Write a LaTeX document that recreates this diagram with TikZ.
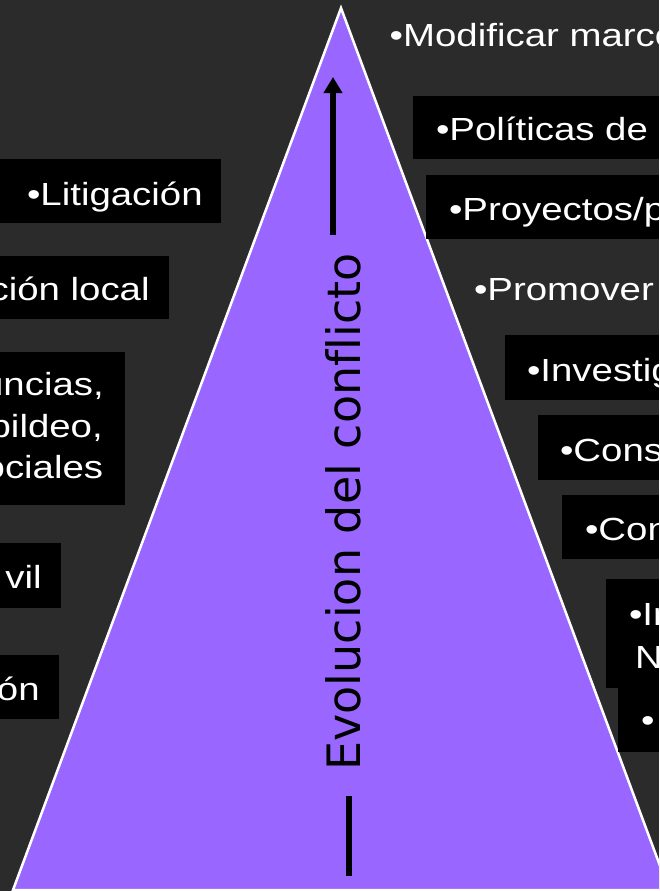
\documentclass[tikz,border=0pt]{standalone}
\usepackage{fontspec}
\usetikzlibrary{arrows.meta}
\newfontfamily\boxfont[FakeStretch=1.2,Ligatures=NoCommon]{Liberation Sans}
\newfontfamily\axisfont[Ligatures=NoCommon]{DejaVu Sans}
\definecolor{bgcol}{HTML}{2B2B2B}
\definecolor{tri}{HTML}{9966FF}
\begin{document}
\begin{tikzpicture}[x=1pt,y=1pt,
  lbl/.style={inner sep=0pt, outer sep=0pt, text=white, font=\boxfont\fontsize{32}{40}\selectfont},
  lft/.style={lbl, anchor=base east},
  rgt/.style={lbl, anchor=base west},
  blackbox/.style={fill=black},
  thickbar/.style={line width=6pt, draw=black},
]
\useasboundingbox (0,0) rectangle (659,-891);
\clip (0,0) rectangle (659,-891);
\fill[bgcol] (0,0) rectangle (659,-891);
% pyramid
\coordinate (apex) at (341,-8);
\coordinate (bl) at (13,-890);
\coordinate (br) at (669,-890);
\filldraw[fill=tri, draw=white, line width=2.5pt] (apex) -- (br) -- (bl) -- cycle;
% left boxes
\fill[blackbox] (0,-159) rectangle (221,-223);
\fill[blackbox] (0,-256) rectangle (169,-319);
\fill[blackbox] (0,-352) rectangle (125,-505);
\fill[blackbox] (0,-543) rectangle (61,-608);
\fill[blackbox] (0,-655) rectangle (59,-719);
% right boxes
\fill[blackbox] (413,-96) rectangle (659,-159);
\fill[blackbox] (426,-175) rectangle (659,-239);
\fill[blackbox] (505,-335) rectangle (659,-400);
\fill[blackbox] (538,-415) rectangle (659,-480);
\fill[blackbox] (562,-495) rectangle (659,-559);
\fill[blackbox] (606,-579) rectangle (659,-688);
\fill[blackbox] (618,-688) rectangle (659,-752);
% left texts
\node[lft] (lit) at (202.7,-205) {•Litigación};
\node[lft] (loc) at (149.7,-300) {ción local};
\node[lft] (den1) at (103.8,-395) {uncias,};
\node[lft] (den2) at (102.8,-437) {bildeo,};
\node[lft] (den3) at (103.2,-478) {ociales};
\node[lft] (civ) at (41.7,-588) {vil};
\node[lft] (cion) at (39.7,-700) {ón};
% right texts
\node[rgt] (mod) at (389.7,-47) {•Modificar marco};
\node[rgt] (pol) at (436,-140) {•Políticas de};
\node[rgt] (pro) at (449,-220) {•Proyectos/p};
\node[rgt] (prm) at (474,-300) {•Promover};
\node[rgt] (inv) at (527,-381) {•Investig};
\node[rgt] (cst) at (560,-461) {•Const};
\node[rgt] (con) at (585,-540) {•Con};
\node[rgt] (in1) at (629,-625) {•In};
\node[rgt] (in2) at (635,-668) {N};
\node[rgt] (lst) at (641,-731) {•};
% axis label and arrow
\node[inner sep=0pt, anchor=base, rotate=90, font=\axisfont\fontsize{46}{50}\selectfont] (axis) at (360,-512) {Evolucion del conflicto};
\coordinate (arrlow) at (333,-235);
\coordinate (arrtip) at (333,-77);
\draw[thickbar, -{Triangle[width=18pt,length=16pt]}] (arrlow) -- (arrtip);
\coordinate (bar1) at (349,-796);
\coordinate (bar2) at (349,-876);
\draw[thickbar] (bar1) -- (bar2);
\end{tikzpicture}
\end{document}
